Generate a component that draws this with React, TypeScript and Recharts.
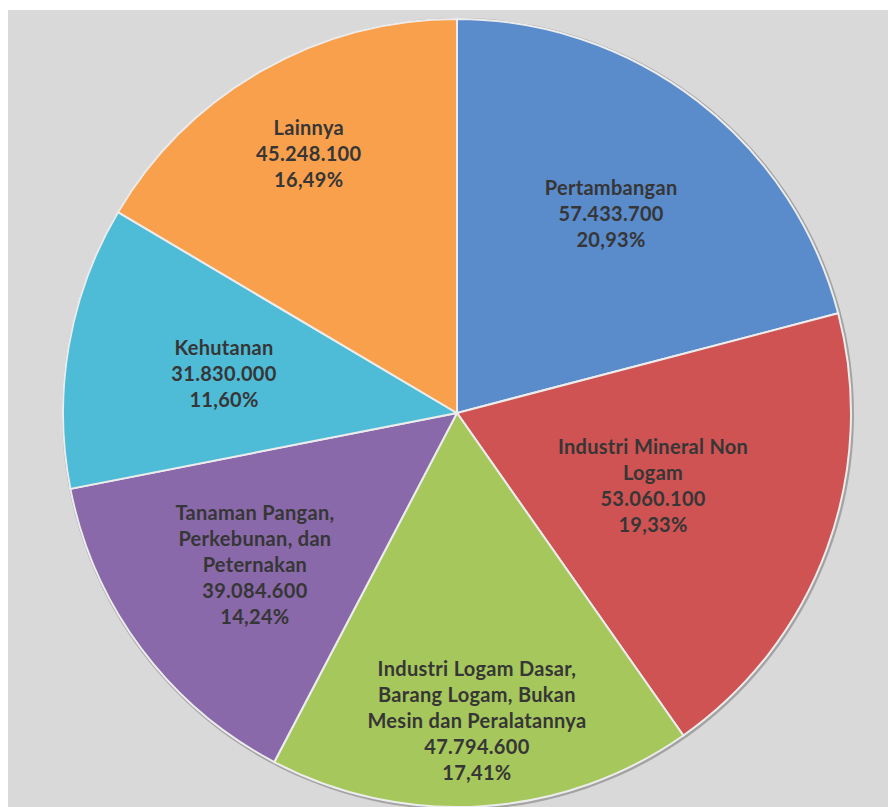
import React from "react";
import { PieChart, Pie, Cell } from "recharts";

const categories = [
  "Pertambangan",
  "Industri Mineral Non\nLogam",
  "Industri Logam Dasar,\nBarang Logam, Bukan\nMesin dan Peralatannya",
  "Tanaman Pangan,\nPerkebunan, dan\nPeternakan",
  "Kehutanan",
  "Lainnya",
];
const values = [57433700, 53060100, 47794600, 39084600, 31830000, 45248100];

const colors = ["#5a8bcb", "#cf5353", "#a6c75b", "#8969a9", "#4ebbd7", "#f9a04c"];
const labelRadius = [0.64, 0.53, 0.78, 0.64, 0.6, 0.76];

const data = categories.map((name, i) => ({ name, value: values[i] }));
const total = values.reduce((a, b) => a + b, 0);

const fmtNum = (v: number) => String(v).replace(/\B(?=(\d{3})+(?!\d))/g, ".");
const fmtPct = (v: number) => ((v / total) * 100).toFixed(2).replace(".", ",") + "%";

const RAD = Math.PI / 180;
const LINE = 26;

const renderLabel = (props: any) => {
  const { cx, cy, midAngle, outerRadius, index } = props;
  const r = outerRadius * labelRadius[index];
  const x = cx + r * Math.cos(-midAngle * RAD);
  const y = cy + r * Math.sin(-midAngle * RAD);
  const lines = [...categories[index].split("\n"), fmtNum(values[index]), fmtPct(values[index])];
  const y0 = y - ((lines.length - 1) * LINE) / 2;
  return (
    <text
      key={`lbl-${index}`}
      x={x}
      y={y0}
      textAnchor="middle"
      dominantBaseline="central"
      fill="#363636"
      fontFamily="Lato, 'Open Sans', sans-serif"
      fontWeight="bold"
      fontSize={20}
      letterSpacing={0.3}
    >
      {lines.map((l, i) => (
        <tspan key={i} x={x} y={y0 + i * LINE} dominantBaseline="central">
          {l}
        </tspan>
      ))}
    </text>
  );
};

export default function App() {
  return (
    <div style={{ width: 888, height: 797, background: "#d9d9d9", marginTop: 2 }}>
      <PieChart width={888} height={797} margin={{ top: 0, right: 0, bottom: 0, left: 0 }}>
        <Pie
          data={[{ name: "shadow", value: 1 }]}
          dataKey="value"
          cx={450}
          cy={404}
          outerRadius={396}
          fill="#a3a3a3"
          stroke="none"
          isAnimationActive={false}
        />
        <Pie
          data={data}
          dataKey="value"
          nameKey="name"
          cx={449}
          cy={403}
          outerRadius={394}
          startAngle={90}
          endAngle={-270}
          stroke="#ececec"
          strokeWidth={2}
          label={renderLabel}
          labelLine={false}
          isAnimationActive={false}
        >
          {data.map((d, i) => (
            <Cell key={d.name} fill={colors[i]} />
          ))}
        </Pie>
      </PieChart>
    </div>
  );
}
